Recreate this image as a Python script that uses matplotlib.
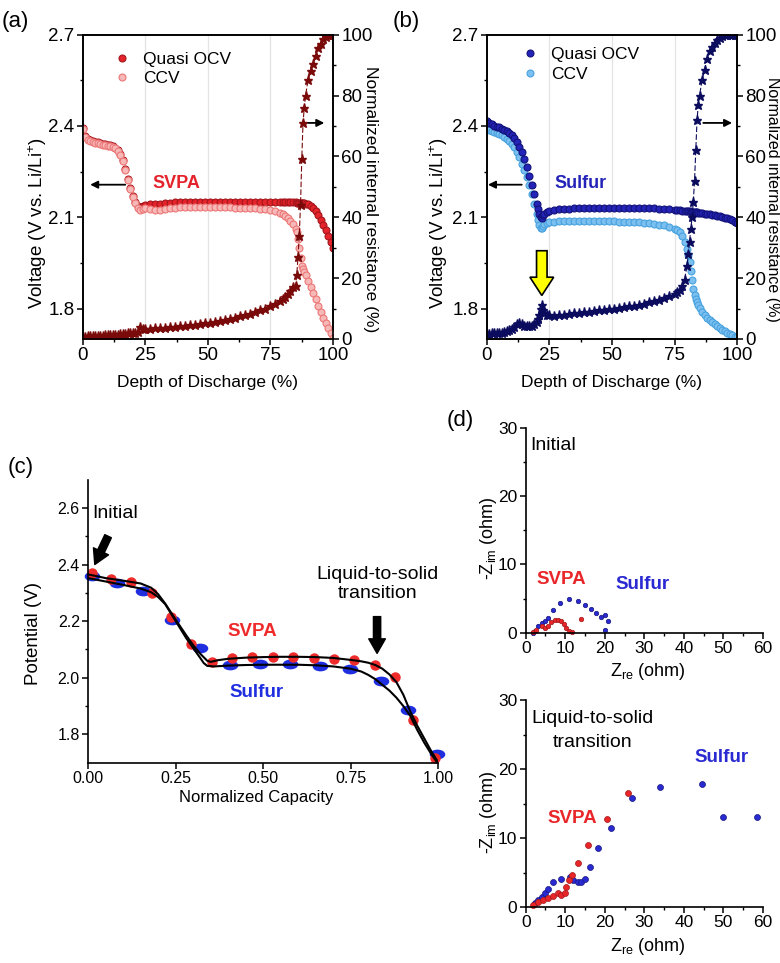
import numpy as np
import matplotlib
matplotlib.use("Agg")
import matplotlib.pyplot as plt
from matplotlib.markers import MarkerStyle
from matplotlib.transforms import Affine2D

plt.rcParams['font.family'] = ['Liberation Sans', 'DejaVu Sans']
plt.rcParams['mathtext.fontset'] = 'custom'
plt.rcParams['mathtext.rm'] = 'Liberation Sans'
plt.rcParams['mathtext.it'] = 'Liberation Sans:italic'
plt.rcParams['mathtext.bf'] = 'Liberation Sans:bold'

# ---------------- (a) SVPA, depth of discharge ----------------
dod_a = [0, 1, 2, 3, 4, 5, 6, 7, 8, 9, 10, 11, 12, 13, 14, 15, 16, 17, 18, 19, 20, 21, 22, 23, 24, 25,
         27, 29, 31, 33, 35, 37, 39, 41, 43, 45, 47, 49, 51, 53, 55, 57, 59, 61, 63, 65, 67, 69, 71, 73,
         75, 77, 79, 80, 81, 82, 83, 84, 85, 85.5, 86, 86.5, 87, 87.5, 88, 88.5,
         89, 90, 91, 92, 93, 94, 95, 96, 97, 98, 99, 100]
ocv_a = [2.393, 2.368, 2.358, 2.353, 2.350, 2.348, 2.346, 2.344, 2.342, 2.340, 2.338, 2.336, 2.333, 2.329,
         2.321, 2.308, 2.288, 2.258, 2.225, 2.195, 2.171, 2.151, 2.136, 2.134, 2.138, 2.141,
         2.143, 2.144, 2.145, 2.147, 2.148, 2.149, 2.150, 2.151, 2.151, 2.151, 2.151, 2.151, 2.151, 2.151,
         2.151, 2.151, 2.151, 2.151, 2.151, 2.151, 2.151, 2.151, 2.150, 2.150, 2.150, 2.150, 2.150, 2.150,
         2.149, 2.149, 2.149, 2.149, 2.149, 2.148, 2.148, 2.148, 2.147, 2.147, 2.147, 2.146,
         2.145, 2.142, 2.137, 2.130, 2.120, 2.107, 2.092, 2.075, 2.058, 2.040, 2.020, 2.000]
ccv_a = [2.390, 2.365, 2.355, 2.350, 2.347, 2.345, 2.343, 2.341, 2.339, 2.337, 2.335, 2.333, 2.330, 2.326,
         2.318, 2.305, 2.285, 2.255, 2.222, 2.192, 2.168, 2.148, 2.132, 2.124, 2.127, 2.130,
         2.128, 2.125, 2.124, 2.126, 2.130, 2.132, 2.134, 2.135, 2.135, 2.135, 2.135, 2.135, 2.135, 2.134,
         2.134, 2.133, 2.133, 2.132, 2.132, 2.131, 2.130, 2.129, 2.128, 2.126, 2.123, 2.120, 2.114, 2.110,
         2.104, 2.097, 2.088, 2.077, 2.062, 2.050, 2.030, 2.000, 1.965, 1.940, 1.930, 1.920,
         1.910, 1.890, 1.870, 1.850, 1.830, 1.810, 1.790, 1.770, 1.752, 1.735, 1.718, 1.702]
res_a = [0.8, 0.8, 0.9, 0.9, 1.0, 1.0, 1.0, 1.1, 1.1, 1.2, 1.2, 1.3, 1.3, 1.4, 1.4, 1.5, 1.6, 1.7, 1.8,
         1.9, 2.0, 2.1, 2.2, 4.0, 3.4, 3.3, 3.4, 3.5, 3.6, 3.7, 3.8, 4.0, 4.1, 4.3, 4.5, 4.7, 4.9, 5.1,
         5.3, 5.6, 5.9, 6.2, 6.6, 7.0, 7.4, 7.8, 8.3, 8.8, 9.4, 10.0, 10.7, 11.5, 12.5, 13.1, 13.8, 14.7,
         15.7, 17.0, 17.5, 21.0, 27.0, 34.0, 44.0, 59.0, 71.0, 76.0,
         80.0, 85.0, 88.0, 90.5, 93.0, 95.5, 97.0, 98.5, 99.3, 99.8, 100.0, 100.0]

# ---------------- (b) Sulfur, depth of discharge ----------------
dod_b = [0, 1, 2, 3, 4, 5, 6, 7, 8, 9, 10, 11, 12, 13, 14, 15, 16, 17, 18, 19, 20,
         20.5, 21, 21.5, 22, 22.5, 23, 24, 25,
         27, 29, 31, 33, 35, 37, 39, 41, 43, 45, 47, 49, 51, 53, 55, 57, 59, 61, 63, 65, 67, 69, 71, 73, 75,
         76, 77, 78, 79, 80, 80.5, 81, 81.5, 82, 82.5, 83, 83.5, 84, 84.5, 85,
         86, 87, 88, 89, 90, 91, 92, 93, 94, 95, 96, 97, 98, 99, 100]
ocv_b = [2.415, 2.410, 2.405, 2.401, 2.398, 2.395, 2.391, 2.387, 2.382, 2.377, 2.370, 2.360, 2.348, 2.332,
         2.315, 2.292, 2.266, 2.236, 2.205, 2.175, 2.143,
         2.127, 2.112, 2.102, 2.099, 2.106, 2.112, 2.118, 2.121,
         2.124, 2.126, 2.127, 2.128, 2.129, 2.130, 2.130, 2.131, 2.131, 2.131, 2.131, 2.131, 2.131, 2.130,
         2.130, 2.130, 2.130, 2.130, 2.130, 2.130, 2.129, 2.128, 2.127, 2.126, 2.125,
         2.124, 2.123, 2.122, 2.121, 2.120, 2.119, 2.119, 2.118, 2.118, 2.117, 2.117, 2.116, 2.116, 2.115, 2.115,
         2.114, 2.112, 2.111, 2.110, 2.109, 2.107, 2.105, 2.103, 2.101, 2.099, 2.096, 2.093, 2.090, 2.086, 2.082]
ccv_b = [2.392, 2.387, 2.383, 2.380, 2.377, 2.373, 2.369, 2.364, 2.358, 2.351, 2.342, 2.330, 2.315, 2.297,
         2.276, 2.254, 2.232, 2.205, 2.176, 2.145, 2.112,
         2.090, 2.073, 2.066, 2.064, 2.070, 2.077, 2.081, 2.083,
         2.085, 2.087, 2.088, 2.088, 2.088, 2.088, 2.088, 2.088, 2.088, 2.088, 2.088, 2.088, 2.087, 2.086,
         2.086, 2.085, 2.084, 2.083, 2.082, 2.080, 2.078, 2.076, 2.073, 2.069, 2.062,
         2.057, 2.050, 2.040, 2.020, 1.995, 1.975, 1.952, 1.925, 1.895, 1.865, 1.845, 1.832, 1.822, 1.812, 1.802,
         1.790, 1.780, 1.770, 1.762, 1.755, 1.748, 1.742, 1.736, 1.730, 1.725, 1.720, 1.716, 1.712, 1.708, 1.705]
res_b = [1.6, 1.7, 1.8, 1.8, 1.9, 2.0, 2.1, 2.3, 2.5, 2.8, 3.2, 3.9, 4.8, 5.3, 5.0, 4.3, 4.1, 4.2, 4.4,
         4.8, 5.6, 6.5, 8.0, 10.0, 11.2, 9.6, 8.6, 8.0, 7.8,
         7.7, 7.8, 8.0, 8.2, 8.4, 8.6, 8.8, 9.0, 9.2, 9.4, 9.6, 9.8, 10.0, 10.2, 10.4, 10.7, 11.0, 11.3,
         11.6, 12.0, 12.4, 12.9, 13.4, 14.0, 14.8,
         15.4, 16.2, 17.3, 19.5, 24.0, 28.0, 32.0, 36.0, 40.0, 45.0, 52.0, 62.0, 72.0, 77.0, 80.0,
         85.0, 88.5, 92.0, 94.5, 96.0, 97.2, 98.2, 99.0, 99.6, 100.0, 100.0, 100.0, 100.0, 100.0, 100.0]

# ---------------- (c) normalized capacity ----------------
svpa_pts_x = [0.01, 0.065, 0.121, 0.181, 0.237, 0.294, 0.353, 0.41, 0.469, 0.528, 0.585, 0.644,
              0.701, 0.759, 0.818, 0.876, 0.929, 0.991]
svpa_pts_v = [2.37, 2.35, 2.337, 2.30, 2.214, 2.118, 2.054, 2.069, 2.072, 2.073, 2.073, 2.071,
              2.067, 2.061, 2.044, 2.001, 1.85, 1.718]
sulf_pts_x = [0.01, 0.081, 0.157, 0.24, 0.32, 0.405, 0.491, 0.577, 0.663, 0.749, 0.835, 0.912, 0.997]
sulf_pts_v = [2.358, 2.334, 2.308, 2.205, 2.104, 2.045, 2.048, 2.047, 2.043, 2.03, 1.99, 1.886, 1.73]
svpa_fit_x = [0, 0.05, 0.10, 0.15, 0.18, 0.20, 0.22, 0.25, 0.28, 0.30, 0.32, 0.34, 0.35, 0.37, 0.40,
              0.45, 0.50, 0.55, 0.60, 0.65, 0.70, 0.75, 0.78, 0.80, 0.82, 0.84, 0.86, 0.88, 0.90,
              0.92, 0.94, 0.96, 0.98, 1.0]
svpa_fit_v = [2.365, 2.352, 2.343, 2.333, 2.318, 2.295, 2.262, 2.205, 2.15, 2.115, 2.085, 2.06, 2.056,
              2.062, 2.067, 2.071, 2.073, 2.074, 2.074, 2.073, 2.07, 2.063, 2.058, 2.053, 2.045, 2.032,
              2.012, 1.985, 1.94, 1.88, 1.83, 1.785, 1.74, 1.70]
sulf_fit_x = [0, 0.05, 0.10, 0.15, 0.18, 0.20, 0.22, 0.25, 0.28, 0.30, 0.32, 0.33, 0.34, 0.36, 0.40,
              0.45, 0.50, 0.55, 0.60, 0.65, 0.70, 0.75, 0.78, 0.80, 0.82, 0.84, 0.86, 0.88, 0.90,
              0.92, 0.94, 0.96, 0.98, 1.0]
sulf_fit_v = [2.352, 2.34, 2.328, 2.315, 2.302, 2.285, 2.26, 2.2, 2.14, 2.105, 2.07, 2.052, 2.042,
              2.04, 2.043, 2.045, 2.046, 2.046, 2.046, 2.044, 2.04, 2.032, 2.022, 2.01, 1.995, 1.975,
              1.955, 1.93, 1.90, 1.865, 1.815, 1.77, 1.73, 1.695]

# ---------------- (d) Nyquist plots ----------------
svpa_init_re = [1.8, 2.7, 4.0, 4.8, 5.6, 6.5, 7.3, 8.1, 8.9, 9.6, 10.2, 11.0, 11.8, 14.1]
svpa_init_im = [0.1, 0.44, 0.93, 0.68, 1.0, 1.5, 1.9, 1.9, 1.66, 1.27, 0.68, 0.2, 0.1, 2.0]
sulf_init_re = [1.8, 2.3, 3.1, 4.0, 4.8, 5.6, 6.9, 8.6, 11.0, 13.2, 14.9, 16.5, 17.7, 19.0, 20.0, 20.8, 20.0]
sulf_init_im = [0.0, 0.2, 0.93, 1.4, 1.66, 2.15, 3.27, 4.4, 5.0, 4.6, 4.1, 3.46, 2.88, 2.3, 2.63, 1.66, 0.44]
svpa_lts_re = [1.9, 3.1, 4.4, 5.6, 6.9, 8.1, 9.0, 9.9, 10.3, 11.0, 11.6, 13.2, 15.8, 20.6, 26.0]
svpa_lts_im = [0.29, 0.77, 1.0, 1.26, 1.6, 2.0, 1.74, 2.08, 2.95, 3.9, 4.64, 6.4, 8.98, 12.7, 16.5]
sulf_lts_re = [2.3, 3.1, 4.0, 4.8, 5.6, 6.9, 9.0, 11.1, 11.9, 13.2, 14.1, 14.9, 16.2, 18.3, 21.7,
               27.0, 33.9, 44.5, 50.0, 58.6]
sulf_lts_im = [0.53, 1.1, 1.5, 2.0, 2.56, 3.67, 4.15, 4.4, 3.9, 3.67, 3.67, 4.15, 5.84, 8.5, 11.4,
               15.8, 17.4, 17.9, 13.0, 13.0]

red = '#e4232b'

fig = plt.figure(figsize=(7.8, 9.63), dpi=100)


def style_ticks(ax, size):
    ax.tick_params(which='major', direction='out', length=4, width=1.1, pad=2, labelsize=size)
    ax.tick_params(which='minor', direction='out', length=2.5, width=1.0)
    for s in ax.spines.values():
        s.set_linewidth(1.2)


def discharge_panel(rect, dod, ocv, ccv, res, c_ocv, e_ocv, c_ccv, e_ccv, c_res, name, name_col,
                    leg_anchor, left_arrow, right_arrow, ccv_on_top, label_x, rlab_x, rlab_size):
    ax = fig.add_axes(rect)
    ax2 = ax.twinx()
    for g in [25, 50, 75]:
        ax.axvline(g, color='#e4e4e4', lw=0.9, zorder=0)
    z_ccv = 3 if ccv_on_top else 2
    l2, = ax.plot(dod, ccv, 'o', ms=5, mfc=c_ccv, mec=e_ccv, mew=0.8, label='CCV', zorder=z_ccv)
    l1, = ax.plot(dod, ocv, 'o', ms=5, mfc=c_ocv, mec=e_ocv, mew=0.8, label='Quasi OCV', zorder=2.5)
    ax2.plot(dod, res, ls=(0, (5, 2)), lw=0.8, color=c_res, marker='*', ms=6.5, mec=c_res)
    ax.set_xlim(0, 100)
    ax.set_ylim(1.7, 2.7)
    ax2.set_ylim(0, 100)
    ax.set_xticks([0, 25, 50, 75, 100])
    ax.set_xticks([12.5, 37.5, 62.5, 87.5], minor=True)
    ax.set_yticks([1.8, 2.1, 2.4, 2.7])
    ax.set_yticks([1.95, 2.25, 2.55], minor=True)
    ax2.set_yticks([0, 20, 40, 60, 80, 100])
    ax2.set_yticks([10, 30, 50, 70, 90], minor=True)
    style_ticks(ax, 13.5)
    style_ticks(ax2, 13.5)
    ax.set_xlabel('Depth of Discharge (%)', fontsize=12.5)
    ax.xaxis.set_label_coords(0.5, -0.118)
    ax.set_ylabel('Voltage (V vs. Li/Li$^{+}$)', fontsize=13.5, va='center')
    ax.yaxis.set_label_coords(label_x, 0.38)
    ax2.set_ylabel('Normalized internal resistance (%)', fontsize=rlab_size, rotation=270, va='center')
    ax2.yaxis.set_label_coords(rlab_x, 0.46)
    ax.text(37.5, 2.21, name, color=name_col, fontsize=13, fontweight='bold', ha='center', va='center')
    ax.legend(handles=[l1, l2], loc='upper left', bbox_to_anchor=leg_anchor, frameon=False,
              fontsize=12.5, handlelength=1.0, handletextpad=0.7, labelspacing=0.25, numpoints=1)
    ap = dict(arrowstyle='-|>', color='k', lw=1.3, mutation_scale=11, shrinkA=0, shrinkB=0)
    ax.annotate('', xy=(left_arrow[0], 2.207), xytext=(left_arrow[1], 2.207), arrowprops=ap)
    ax2.annotate('', xy=(right_arrow[1], 71), xytext=(right_arrow[0], 71), arrowprops=ap)
    return ax, ax2


ax_a, ax_a2 = discharge_panel([0.106, 0.648, 0.321, 0.316], dod_a, ocv_a, ccv_a, res_a,
                              red, '#a5161c', '#f7b8b8', '#ec7676', '#7a0a0a', 'SVPA', red,
                              (0.06, 0.995), (3, 17), (90, 96.5), True, -0.18, 1.15, 12.5)
ax_b, ax_b2 = discharge_panel([0.624, 0.648, 0.321, 0.316], dod_b, ocv_b, ccv_b, res_b,
                              '#2424b8', '#12127a', '#7cc0f0', '#48a2e0', '#0c0c5e', 'Sulfur', '#2424b8',
                              (0.075, 1.01), (0.5, 14), (86.5, 98), False, -0.19, 1.143, 11.5)
# yellow arrow marking the resistance bump
ax_b.arrow(22, 1.99, 0, -0.147, width=4.2, head_width=9.5, head_length=0.06,
           length_includes_head=True, fc='#ffff00', ec='k', lw=1.2, zorder=5)

# ---------------- (c) ----------------
ax_c = fig.add_axes([0.113, 0.208, 0.449, 0.294])
oval = MarkerStyle('o', transform=Affine2D().scale(1.7, 1.0))
ax_c.plot(sulf_pts_x, sulf_pts_v, ls='none', marker=oval, ms=6, mfc='#1f2fe0', mec='#1f2fe0', clip_on=False)
ax_c.plot(svpa_pts_x, svpa_pts_v, 'o', ms=6.5, mfc='#ee2a2a', mec='#ee2a2a', clip_on=False)
ax_c.plot(sulf_fit_x, sulf_fit_v, color='k', lw=1.5)
ax_c.plot(svpa_fit_x, svpa_fit_v, color='k', lw=1.5)
ax_c.set_xlim(0, 1)
ax_c.set_ylim(1.7, 2.7)
ax_c.set_xticks([0, 0.25, 0.5, 0.75, 1.0])
ax_c.set_xticklabels(['0.00', '0.25', '0.50', '0.75', '1.00'])
ax_c.set_yticks([1.8, 2.0, 2.2, 2.4, 2.6])
ax_c.set_yticks([1.9, 2.1, 2.3, 2.5], minor=True)
ax_c.spines['top'].set_visible(False)
ax_c.spines['right'].set_visible(False)
style_ticks(ax_c, 11.5)
ax_c.set_xlabel('Normalized Capacity', fontsize=12)
ax_c.xaxis.set_label_coords(0.48, -0.095)
ax_c.set_ylabel('Potential (V)', fontsize=13.5, va='center')
ax_c.yaxis.set_label_coords(-0.157, 0.456)
ax_c.text(0.012, 2.58, 'Initial', fontsize=14, ha='left', va='center')
ax_c.text(0.825, 2.33, 'Liquid-to-solid\ntransition', fontsize=14, ha='center', va='center',
          linespacing=1.15)
ax_c.text(0.47, 2.163, 'SVPA', color='#ee2a2a', fontsize=13.5, fontweight='bold', ha='center', va='center')
ax_c.text(0.482, 1.947, 'Sulfur', color='#1f2fe0', fontsize=13.5, fontweight='bold', ha='center', va='center')
bp = dict(arrowstyle='simple,head_length=0.7,head_width=0.8,tail_width=0.35', fc='k', ec='k',
          mutation_scale=15, shrinkA=0, shrinkB=0)
ax_c.annotate('', xy=(0.019, 2.40), xytext=(0.057, 2.50), arrowprops=bp)
ax_c.annotate('', xy=(0.825, 2.086), xytext=(0.825, 2.216), arrowprops=bp)


# ---------------- (d) ----------------
def nyquist(rect, s_re, s_im, f_re, f_im, ms, label_y):
    ax = fig.add_axes(rect)
    ax.plot(f_re, f_im, 'o', ms=ms, mfc='#2a2ad2', mec='#15157a', mew=0.5, clip_on=False)
    ax.plot(s_re, s_im, 'o', ms=ms, mfc='#e8262a', mec='#a01818', mew=0.5, clip_on=False)
    ax.set_xlim(0, 60)
    ax.set_ylim(0, 30)
    ax.set_xticks(range(0, 61, 10))
    ax.set_xticks(range(5, 60, 10), minor=True)
    ax.set_yticks([0, 10, 20, 30])
    ax.set_yticks([5, 15, 25], minor=True)
    ax.spines['top'].set_visible(False)
    ax.spines['right'].set_visible(False)
    style_ticks(ax, 12.5)
    ax.set_xlabel('Z$_{\\rm re}$ (ohm)', fontsize=13)
    ax.xaxis.set_label_coords(0.515, label_y)
    ax.set_ylabel('-Z$_{\\rm im}$ (ohm)', fontsize=13, va='center')
    ax.yaxis.set_label_coords(-0.158, 0.46)
    return ax


ax_d1 = nyquist([0.674, 0.343, 0.304, 0.213], svpa_init_re, svpa_init_im, sulf_init_re, sulf_init_im,
                3.2, -0.14)
ax_d1.text(1.2, 27.4, 'Initial', fontsize=14, ha='left', va='center')
ax_d1.text(9.0, 7.75, 'SVPA', color='#e8262a', fontsize=13.5, fontweight='bold', ha='center', va='center')
ax_d1.text(29.6, 7.0, 'Sulfur', color='#2a2ad2', fontsize=13.5, fontweight='bold', ha='center', va='center')

ax_d2 = nyquist([0.674, 0.058, 0.304, 0.215], svpa_lts_re, svpa_lts_im, sulf_lts_re, sulf_lts_im,
                4.3, -0.14)
ax_d2.text(1.5, 27.4, 'Liquid-to-solid', fontsize=14, ha='left', va='center')
ax_d2.text(17.0, 23.8, 'transition', fontsize=14, ha='center', va='center')
ax_d2.text(11.7, 12.9, 'SVPA', color='#e8262a', fontsize=13.5, fontweight='bold', ha='center', va='center')
ax_d2.text(49.5, 21.7, 'Sulfur', color='#2a2ad2', fontsize=13.5, fontweight='bold', ha='center', va='center')

# panel letters
fig.text(0.002, 0.978, '(a)', fontsize=16, ha='left', va='center')
fig.text(0.504, 0.978, '(b)', fontsize=16, ha='left', va='center')
fig.text(0.010, 0.515, '(c)', fontsize=16, ha='left', va='center')
fig.text(0.573, 0.563, '(d)', fontsize=16, ha='left', va='center')

fig.savefig('out.png', dpi=100)
